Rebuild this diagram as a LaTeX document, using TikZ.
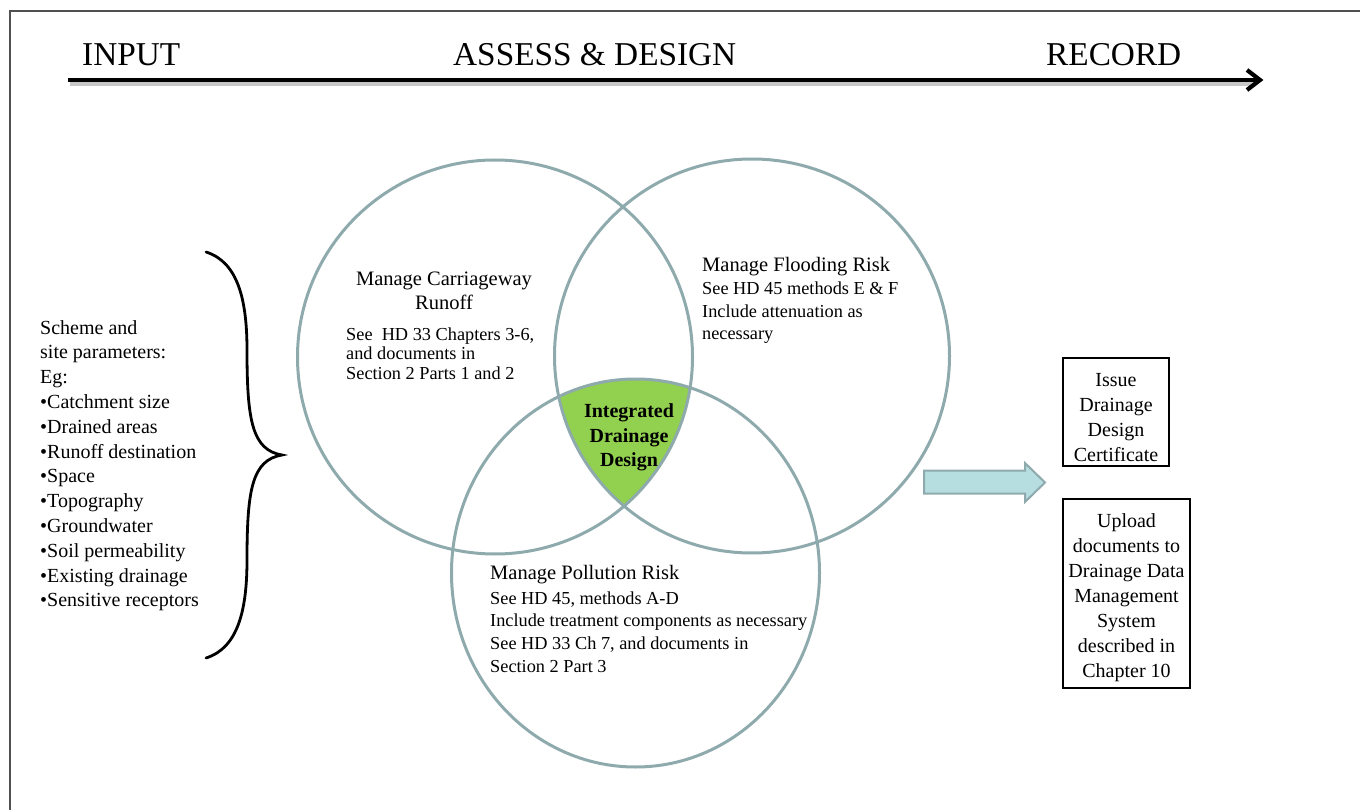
\documentclass[tikz,border=0pt]{standalone}
\usepackage{fontspec}
\setmainfont{Liberation Serif}
\definecolor{ring}{HTML}{8EAAAD}
\definecolor{leaf}{HTML}{92D050}
\definecolor{aqua}{HTML}{B6DDE0}
\definecolor{framegray}{HTML}{505050}
\begin{document}
\begin{tikzpicture}[x=1pt,y=-1pt,
  head/.style={font=\fontsize{33.3}{40}\selectfont, inner sep=0, anchor=base west},
  ttl/.style={font=\fontsize{20.5}{24}\selectfont, inner sep=0, align=center, anchor=base},
  ttlw/.style={font=\fontsize{20.5}{24}\selectfont, inner sep=0, anchor=base west},
  body/.style={inner sep=0, align=left, anchor=base west},
  listtxt/.style={font=\fontsize{20}{24.8}\selectfont, inner sep=0, align=left, anchor=base west},
  core/.style={font=\fontsize{20}{24.5}\selectfont\bfseries, inner sep=0, align=center, anchor=base},
  boxframe/.style={draw=black, line width=2pt, minimum width=#1, inner sep=0},
  boxtxt/.style={font=\fontsize{20}{25}\selectfont, inner sep=0, align=center},
  ringline/.style={draw=ring, line width=3pt},
  axis/.style={line width=4.2pt, line cap=butt},
]
\useasboundingbox (0,0) rectangle (1360,810);
% frame (partial)
\draw[framegray, line width=1.3pt] (1360,11) -- (10,11) -- (10,810);

% header
\node[head] (tin) at (82,66) {INPUT};
\node[head] (tas) at (453,66) {ASSESS \& DESIGN};
\node[head] (tre) at (1046,66) {RECORD};
\coordinate (hs) at (68,80);
\coordinate (he) at (1260,80);
\draw[black!22, line width=4pt] (70,84) -- (1256,84);
\draw[axis] (hs) -- (he);
\draw[line width=4.2pt, line join=miter] (1247,70) -- (he) -- (1247,90);

% Venn
\coordinate (c1) at (495,357);
\coordinate (c2) at (752,356);
\coordinate (c3) at (635.5,573);
\begin{scope}
  \clip (c1) ellipse [x radius=197.5, y radius=197];
  \clip (c2) ellipse [x radius=197.5, y radius=197];
  \fill[leaf] (c3) ellipse [x radius=184, y radius=194];
\end{scope}
\draw[ringline] (c1) ellipse [x radius=197.5, y radius=197];
\draw[ringline] (c2) ellipse [x radius=197.5, y radius=197];
\draw[ringline] (c3) ellipse [x radius=184, y radius=194];

% circle 1 text (base anchor = last line baseline)
\node[ttl] (t1) at (444,309) {Manage Carriageway\\Runoff};
\node[body, font=\fontsize{18.3}{19.5}\selectfont] (b1) at (346,379) {See\ \ HD 33 Chapters 3-6,\\and documents in\\Section 2 Parts 1 and 2};
% circle 2 text
\node[ttlw] (t2) at (702,272) {Manage Flooding Risk};
\node[body, font=\fontsize{18.3}{22}\selectfont] (b2) at (702,339) {See HD 45 methods E \& F\\Include attenuation as\\necessary};
% circle 3 text
\node[ttlw] (t3) at (490,579.5) {Manage Pollution Risk};
\node[body, font=\fontsize{18.3}{22.8}\selectfont] (b3) at (490,672.4) {See HD 45, methods A-D\\Include treatment components as necessary\\See HD 33 Ch 7, and documents in\\Section 2 Part 3};
% core
\node[core] (idd) at (629,466.5) {Integrated\\Drainage\\Design};

% input list
\node[listtxt] (lst) at (40,606.8) {Scheme and\\site parameters:\\Eg:\\\textbullet Catchment size\\\textbullet Drained areas\\\textbullet Runoff destination\\\textbullet Space\\\textbullet Topography\\\textbullet Groundwater\\\textbullet Soil permeability\\\textbullet Existing drainage\\\textbullet Sensitive receptors};

% brace
\coordinate (bt) at (206,252);
\coordinate (bm) at (282,455);
\coordinate (bb) at (206,658);
\draw[line width=2.8pt, line cap=round] (bt) .. controls (238,262) and (247,300) .. (247,350)
  .. controls (247,420) and (252,450) .. (bm)
  .. controls (252,460) and (247,490) .. (247,560)
  .. controls (247,610) and (238,648) .. (bb);

% block arrow
\draw[fill=aqua, draw=ring, line width=2pt, line join=miter]
  (924,470.5) -- (1025,470.5) -- (1025,463) -- (1045,482.5) -- (1025,502) -- (1025,493.5) -- (924,493.5) -- cycle;

% record boxes
\node[boxframe=106pt, minimum height=108pt] (box1) at (1116,412) {};
\node[boxtxt] (box1t) at (1116,417.7) {Issue\\Drainage\\Design\\Certificate};
\node[boxframe=127pt, minimum height=189pt] (box2) at (1126.5,593.5) {};
\node[boxtxt] (box2t) at (1126.5,597.3) {Upload\\documents to\\Drainage Data\\Management\\System\\described in\\Chapter 10};
\end{tikzpicture}
\end{document}
